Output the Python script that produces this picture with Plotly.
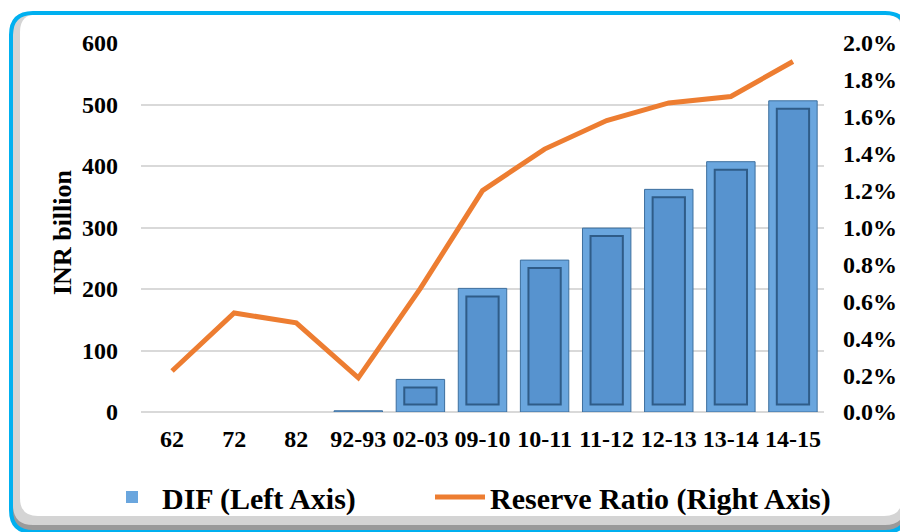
import plotly.graph_objects as go

categories = ["62", "72", "82", "92-93", "02-03", "09-10", "10-11", "11-12", "12-13", "13-14", "14-15"]
dif_values = [0, 0, 0, 2, 53, 201, 247, 299, 362, 407, 506]
reserve_ratio = [0.00222, 0.00537, 0.00483, 0.00185, 0.0067, 0.0120, 0.01425, 0.0158, 0.01675, 0.0171, 0.0190]

left_ticks = [0, 100, 200, 300, 400, 500, 600]
right_ticks = [0.0, 0.002, 0.004, 0.006, 0.008, 0.010, 0.012, 0.014, 0.016, 0.018, 0.020]

W, H = 908, 532
OFF = 8  # page body margin
# plot area in page coordinates: x 141..824, y 43..412
PX0, PX1, PY0, PY1 = 141, 824, 43, 412
L, T = PX0 - OFF, PY0 - OFF
R, B = W - (PX1 - OFF), H - (PY1 - OFF)
PW, PH = PX1 - PX0, PY1 - PY0

def fx(px):  # page px -> paper
    return (px - PX0) / PW

def fy(py):
    return (PY1 - py) / PH

def rrect(x0, y0, x1, y1, r):
    rx, ry = r / PW, r / PH
    a, b, c, d = fx(x0), fy(y0), fx(x1), fy(y1)
    return (f"M {a+rx},{b} L {c-rx},{b} Q {c},{b} {c},{b-ry} "
            f"L {c},{d+ry} Q {c},{d} {c-rx},{d} L {a+rx},{d} "
            f"Q {a},{d} {a},{d+ry} L {a},{b-ry} Q {a},{b} {a+rx},{b} Z")

FONT = "Liberation Serif, Times New Roman, serif"

# inner bevel of bars (derived from values)
inner_base = [12 if v > 30 else None for v in dif_values]
inner_len = [v - 25 if v > 30 else None for v in dif_values]
outline_w = [0 if v == 0 else 1 for v in dif_values]

fig = go.Figure()
fig.add_trace(go.Bar(
    x=categories, y=dif_values, name="DIF (Left Axis)", legend="legend",
    marker=dict(color="#6aa6de", line=dict(color="#3d6f9e", width=outline_w)),
    width=0.78,
))
fig.add_trace(go.Bar(
    x=categories, y=inner_len, base=inner_base, showlegend=False, hoverinfo="skip",
    marker=dict(color="#5793cf", line=dict(color="#2f5c88", width=2)),
    width=0.52,
))
fig.add_trace(go.Scatter(
    x=categories, y=reserve_ratio, name="Reserve Ratio (Right Axis)", legend="legend2",
    mode="lines", line=dict(color="#ED7D31", width=5), yaxis="y2",
))

shapes = [
    dict(type="path", xref="paper", yref="paper", path=rrect(10, 12, 907, 531, 22),
         fillcolor="#9a9a9a", line=dict(width=0), layer="below"),
    dict(type="path", xref="paper", yref="paper", path=rrect(13, 13, 905, 525, 20),
         fillcolor="#d4d4d4", line=dict(width=0), layer="below"),
    dict(type="path", xref="paper", yref="paper", path=rrect(20, 14, 902, 516, 18),
         fillcolor="#ffffff", line=dict(width=0), layer="below"),
    dict(type="path", xref="paper", yref="paper", path=rrect(11, 13, 907, 532, 22),
         fillcolor="rgba(0,0,0,0)", line=dict(color="#00B0F0", width=4), layer="below"),
]

legend_font = dict(family=FONT, size=30, color="black", weight="bold")

fig.update_layout(
    width=W, height=H,
    margin=dict(l=L, r=R, t=T, b=B),
    paper_bgcolor="white", plot_bgcolor="rgba(0,0,0,0)",
    barmode="overlay", bargap=0.2,
    font=dict(family=FONT, size=24, color="black", weight="bold"),
    shapes=shapes,
    showlegend=True,
    legend=dict(orientation="h", x=fx(102), xanchor="left", y=fy(497), yanchor="middle",
                font=legend_font, bgcolor="rgba(0,0,0,0)", itemwidth=50),
    legend2=dict(orientation="h", x=fx(430), xanchor="left", y=fy(497), yanchor="middle",
                 font=legend_font, bgcolor="rgba(0,0,0,0)", itemwidth=50),
    xaxis=dict(type="category", showgrid=False, showline=False, ticks="",
               tickfont=dict(size=24, weight="bold"), ticklabelstandoff=10, automargin=False),
    yaxis=dict(range=[0, 600], tickvals=left_ticks, showgrid=True, gridcolor="#d9d9d9",
               gridwidth=1.5, zeroline=True, zerolinecolor="#d9d9d9", zerolinewidth=1.5,
               showline=False, ticks="", ticklabelstandoff=22,
               tickfont=dict(size=24, weight="bold"), automargin=False),
    yaxis2=dict(range=[0, 0.020], tickvals=right_ticks, tickformat=".1%", overlaying="y",
                side="right", showgrid=False, zeroline=False, showline=False, ticks="",
                ticklabelstandoff=18, tickfont=dict(size=24, weight="bold"), automargin=False),
    annotations=[dict(text="INR billion", x=fx(62), y=fy(232), xref="paper", yref="paper",
                      xanchor="center", yanchor="middle", textangle=-90, showarrow=False,
                      font=dict(family=FONT, size=26, color="black", weight="bold"))],
)

fig.write_html("out.html")
